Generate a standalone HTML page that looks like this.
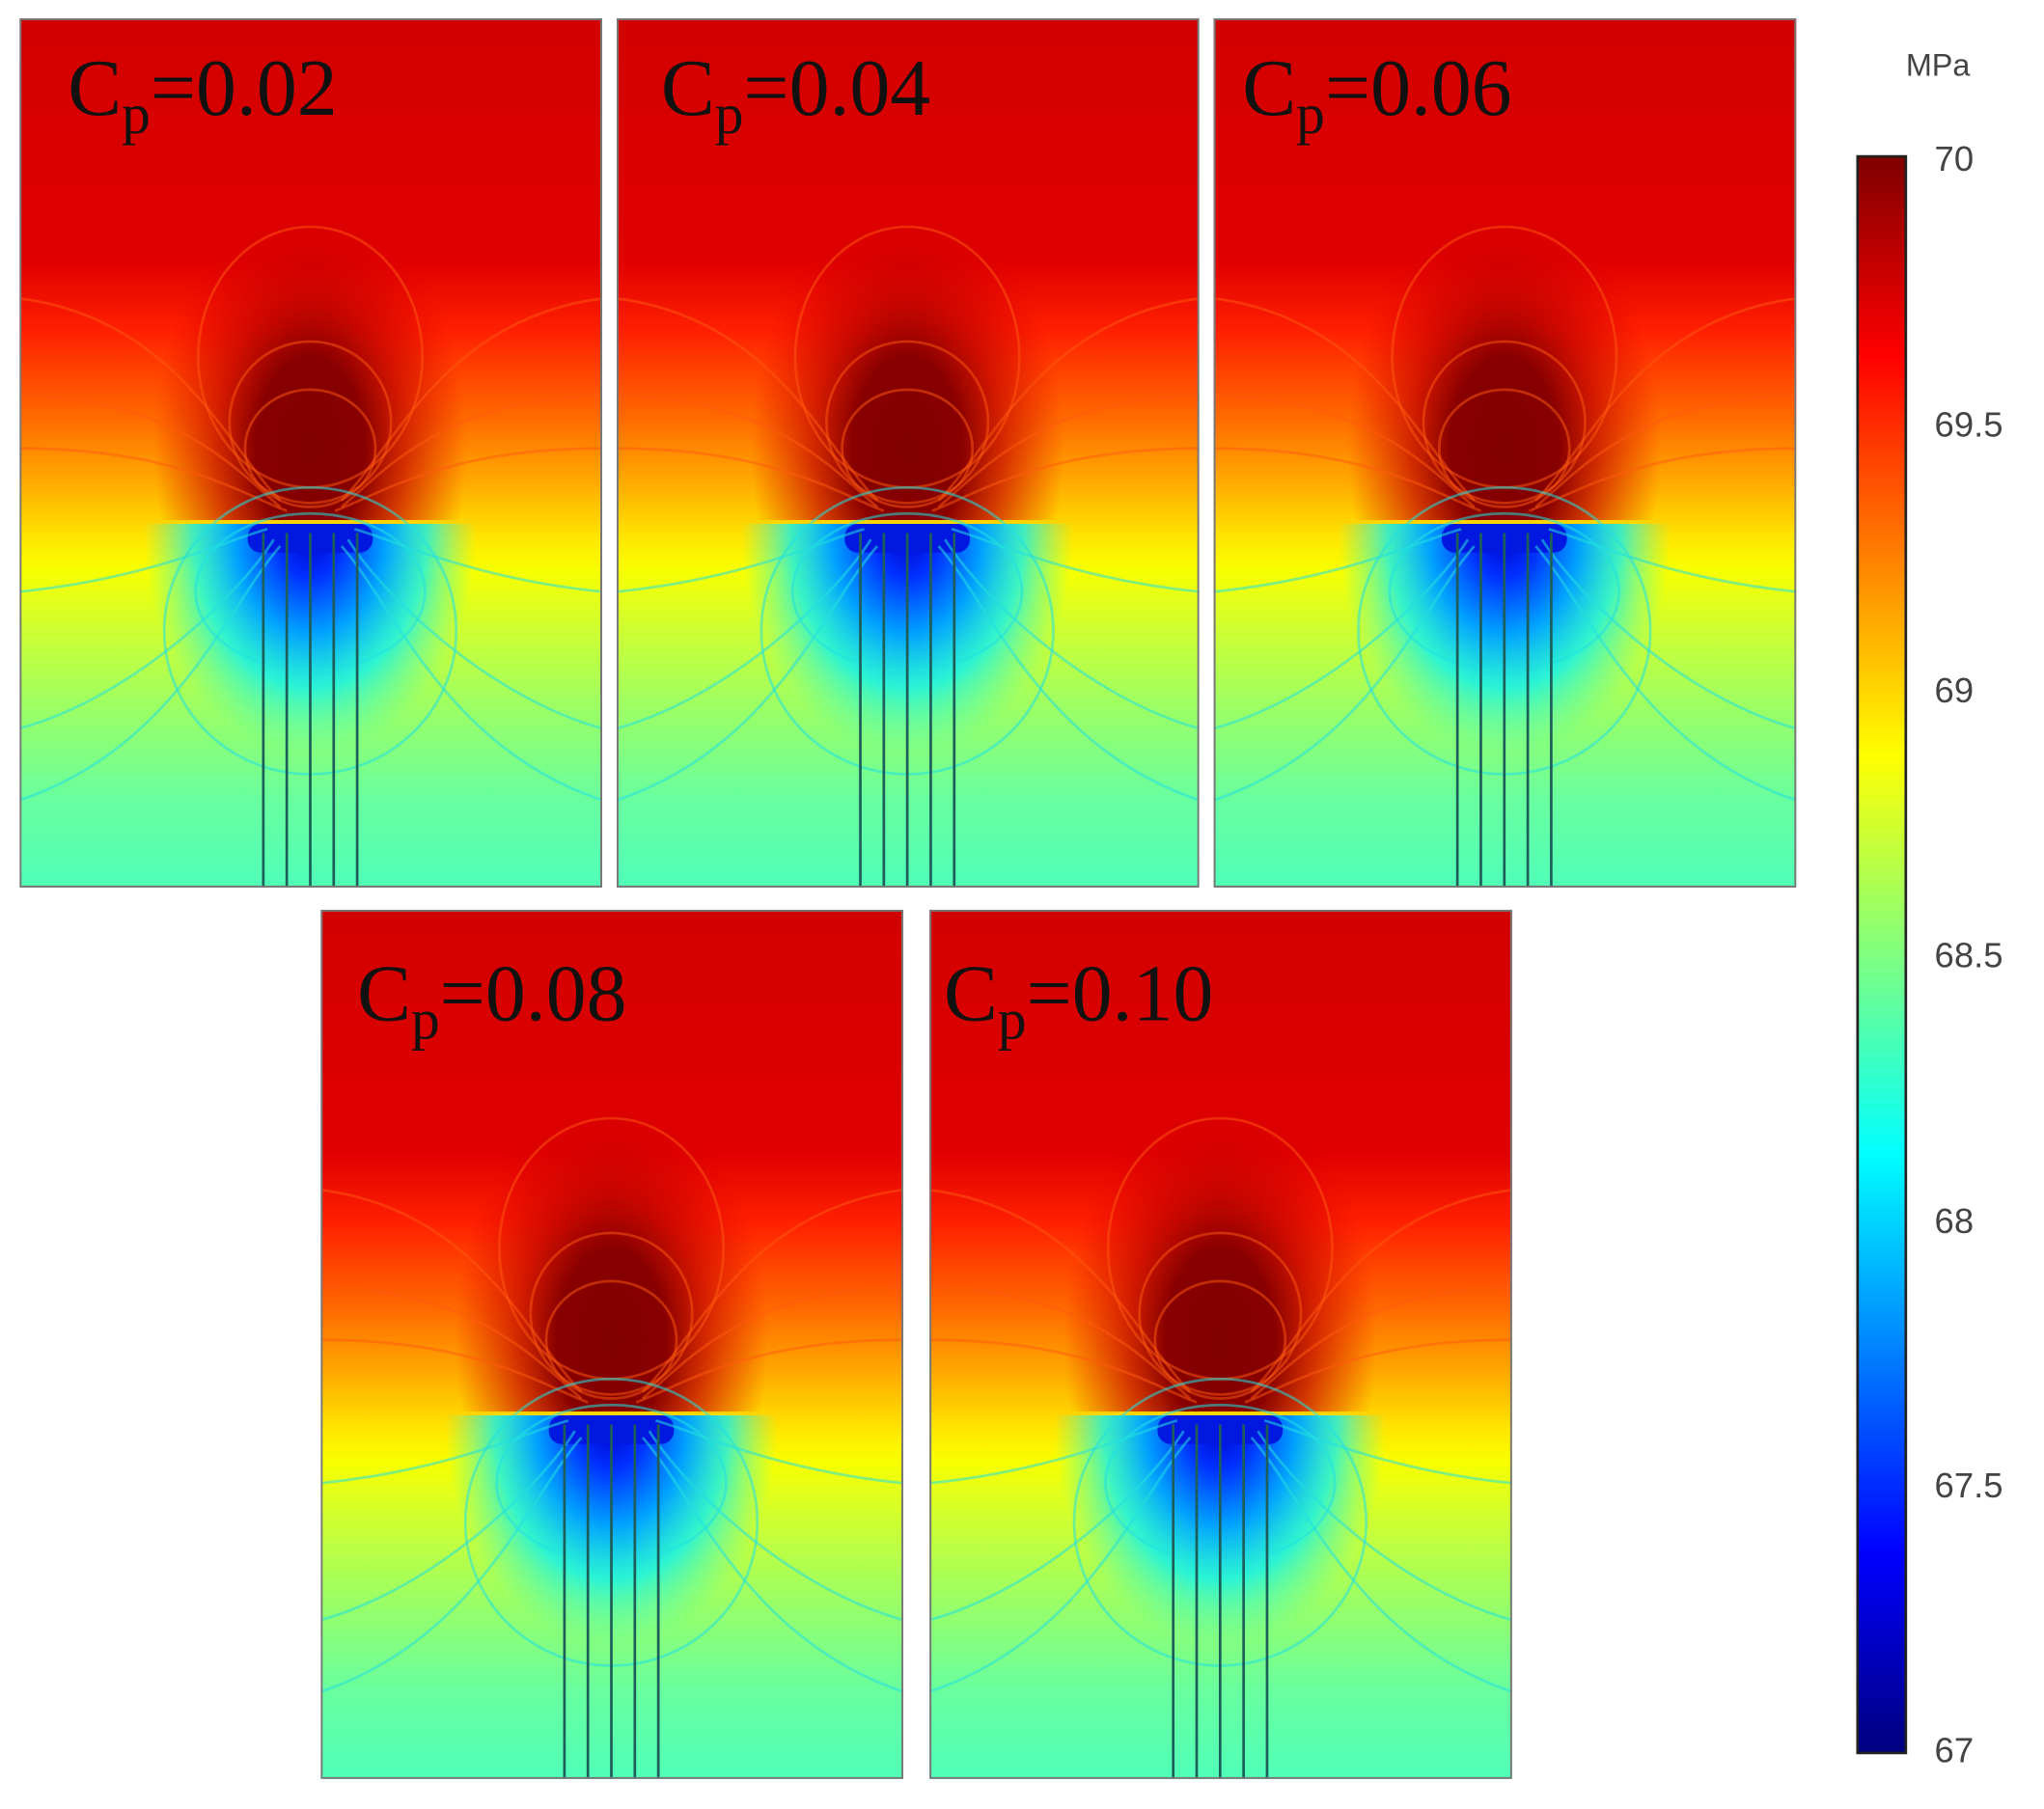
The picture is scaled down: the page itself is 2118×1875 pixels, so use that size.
<!DOCTYPE html>
<html><head><meta charset="utf-8"><style>html,body{margin:0;padding:0;background:#fff}svg{display:block}</style></head>
<body>
<svg width="2118" height="1875" viewBox="0 0 1568 1388" preserveAspectRatio="none" xmlns="http://www.w3.org/2000/svg">
<defs>
<linearGradient id="bg" x1="0" y1="0" x2="0" y2="667" gradientUnits="userSpaceOnUse">
<stop offset="0" stop-color="#d20000"/>
<stop offset="0.28" stop-color="#e00000"/>
<stop offset="0.36" stop-color="#ff2000"/>
<stop offset="0.46" stop-color="#ff6a00"/>
<stop offset="0.54" stop-color="#ffb000"/>
<stop offset="0.60" stop-color="#ffe800"/>
<stop offset="0.635" stop-color="#f8ff00"/>
<stop offset="0.70" stop-color="#d0ff30"/>
<stop offset="0.80" stop-color="#98ff68"/>
<stop offset="0.90" stop-color="#68ffa0"/>
<stop offset="1" stop-color="#50ffb8"/>
</linearGradient>
<radialGradient id="red" cx="223" cy="330" r="200" gradientUnits="userSpaceOnUse" gradientTransform="translate(223 330) scale(0.6 1.0) translate(-223 -330)">
<stop offset="0" stop-color="#800000"/>
<stop offset="0.35" stop-color="#880000"/>
<stop offset="0.6" stop-color="#c00000" stop-opacity="0.7"/>
<stop offset="1" stop-color="#e00000" stop-opacity="0"/>
</radialGradient>
<radialGradient id="blue" cx="223" cy="395" r="170" gradientUnits="userSpaceOnUse" gradientTransform="translate(223 395) scale(0.75 1.0) translate(-223 -395)">
<stop offset="0" stop-color="#0000c8"/>
<stop offset="0.2" stop-color="#0030ff"/>
<stop offset="0.45" stop-color="#00a0ff"/>
<stop offset="0.7" stop-color="#00f0ff" stop-opacity="0.75"/>
<stop offset="1" stop-color="#40ffd0" stop-opacity="0"/>
</radialGradient>
<clipPath id="lower"><rect x="0" y="388" width="447" height="279"/></clipPath>
<clipPath id="upper"><rect x="0" y="0" width="447" height="385"/></clipPath>
<linearGradient id="jet" x1="0" y1="0" x2="0" y2="1">
<stop offset="0" stop-color="#7f0000"/>
<stop offset="0.125" stop-color="#ff0000"/>
<stop offset="0.375" stop-color="#ffff00"/>
<stop offset="0.625" stop-color="#00ffff"/>
<stop offset="0.875" stop-color="#0000ff"/>
<stop offset="1" stop-color="#00007f"/>
</linearGradient>
<symbol id="panel" viewBox="0 0 447 667" width="447" height="667">
<rect width="447" height="667" fill="url(#bg)"/>
<g clip-path="url(#upper)"><rect width="447" height="385" fill="url(#red)"/></g>
<g clip-path="url(#lower)"><rect y="380" width="447" height="287" fill="url(#blue)"/></g>
<rect x="175" y="388" width="96" height="22" rx="10" fill="#0018e0"/>
<g fill="none" stroke="#ff5a10" stroke-opacity="0.5" stroke-width="2">
<ellipse cx="223" cy="260" rx="86" ry="100"/>
<ellipse cx="223" cy="310" rx="62" ry="62"/>
<ellipse cx="223" cy="330" rx="50" ry="45"/>
<path d="M0 215 C120 230 160 330 200 370"/>
<path d="M447 215 C327 230 287 330 247 370"/>
<path d="M0 290 C120 290 170 350 200 375"/>
<path d="M447 290 C327 290 277 350 247 375"/>
<path d="M0 330 C120 330 170 365 205 378"/>
<path d="M447 330 C327 330 277 365 242 378"/>
</g>
<g fill="none" stroke="#20e0e0" stroke-opacity="0.55" stroke-width="2">
<path d="M0 440 C100 430 160 400 190 392"/>
<path d="M447 440 C347 430 287 400 257 392"/>
<path d="M0 545 C90 520 170 440 195 400"/>
<path d="M447 545 C357 520 277 440 252 400"/>
<path d="M0 600 C120 560 160 450 200 405"/>
<path d="M447 600 C327 560 287 450 247 405"/>
<ellipse cx="223" cy="440" rx="88" ry="60"/>
<ellipse cx="223" cy="470" rx="112" ry="110"/>
</g>
<g stroke="#1e5e5a" stroke-width="2">
<line x1="187" y1="395" x2="187" y2="667"/>
<line x1="205" y1="395" x2="205" y2="667"/>
<line x1="223" y1="395" x2="223" y2="667"/>
<line x1="241" y1="395" x2="241" y2="667"/>
<line x1="259" y1="395" x2="259" y2="667"/>
</g>
<rect x="0.75" y="0.75" width="445.5" height="665.5" fill="none" stroke="#777" stroke-width="1.5"/>
</symbol>
</defs>
<rect width="1568" height="1388" fill="#fff"/>
<use href="#panel" x="15" y="14"/>
<use href="#panel" x="473" y="14"/>
<use href="#panel" x="931" y="14"/>
<use href="#panel" x="246" y="698"/>
<use href="#panel" x="713" y="698"/>
<g font-family="Liberation Serif, serif" font-size="62" fill="#111">
<text x="52" y="88">C<tspan font-size="44" dy="14">p</tspan><tspan dy="-14">=0.02</tspan></text>
<text x="507" y="88">C<tspan font-size="44" dy="14">p</tspan><tspan dy="-14">=0.04</tspan></text>
<text x="953" y="88">C<tspan font-size="44" dy="14">p</tspan><tspan dy="-14">=0.06</tspan></text>
<text x="274" y="783">C<tspan font-size="44" dy="14">p</tspan><tspan dy="-14">=0.08</tspan></text>
<text x="724" y="783">C<tspan font-size="44" dy="14">p</tspan><tspan dy="-14">=0.10</tspan></text>
</g>
<rect x="1425" y="120" width="37" height="1225" fill="url(#jet)" stroke="#222" stroke-width="2"/>
<g font-family="Liberation Sans, sans-serif" font-size="27" fill="#444">
<text x="1462" y="58" font-size="24">MPa</text>
<text x="1484" y="131">70</text>
<text x="1484" y="335">69.5</text>
<text x="1484" y="539">69</text>
<text x="1484" y="742">68.5</text>
<text x="1484" y="946">68</text>
<text x="1484" y="1149">67.5</text>
<text x="1484" y="1352">67</text>
</g>
</svg>
</body></html>
